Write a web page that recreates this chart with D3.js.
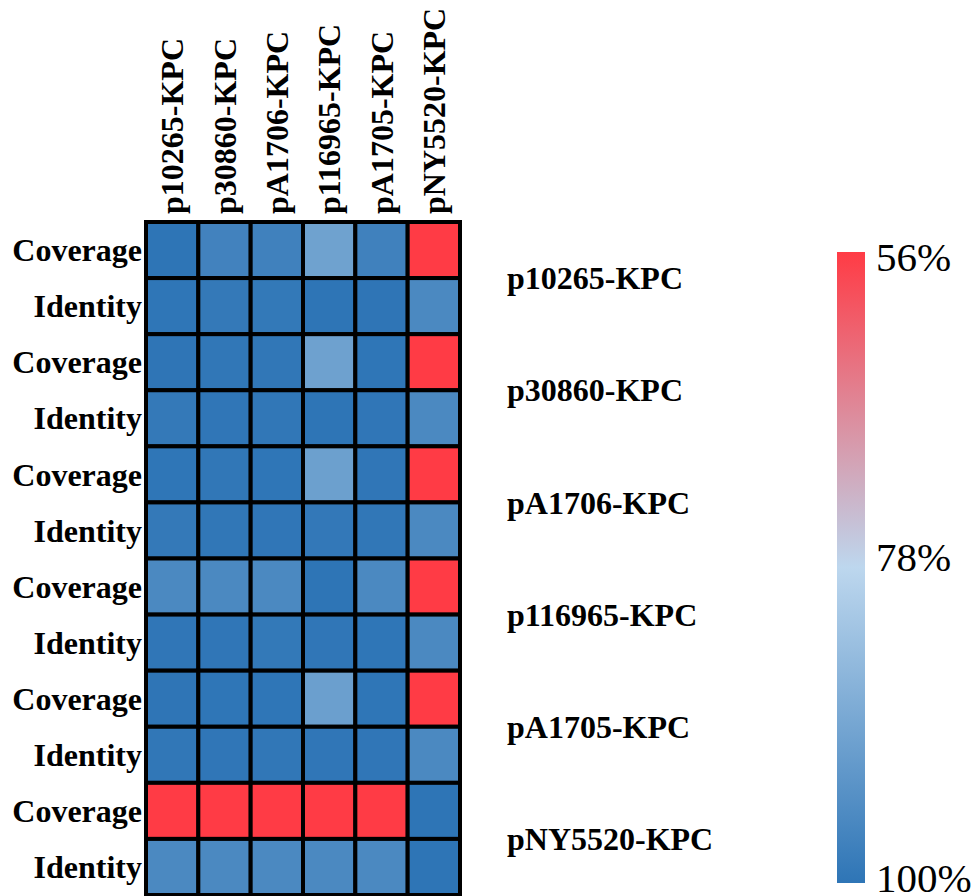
<!DOCTYPE html>
<html>
<head>
<meta charset="utf-8">
<script src="https://cdn.jsdelivr.net/npm/d3@7"></script>
<style>
  html, body { margin: 0; padding: 0; background: #fff; }
  svg text { font-family: "Liberation Serif", "Times New Roman", serif; fill: #000; }
</style>
</head>
<body>
<svg id="chart" width="977" height="896"></svg>
<script>
// plasmids compared (rows and columns share the same list)
const plasmids = ["p10265-KPC", "p30860-KPC", "pA1706-KPC", "p116965-KPC", "pA1705-KPC", "pNY5520-KPC"];
const metrics = ["Coverage", "Identity"];

// coverage[i][j]: % of row plasmid i covered by column plasmid j
const coverage = [
  [100, 97.0, 97.2, 90.0, 97.2, 52],
  [99.9, 99.6, 99.6, 90.2, 99.8, 52],
  [99.8, 99.6, 99.8, 90.4, 99.7, 52],
  [95.6, 95.5, 95.6, 100, 95.5, 52],
  [99.9, 99.8, 99.8, 90.6, 99.8, 52],
  [45, 45, 45, 45, 45, 100]
];

// identity[i][j]: % nucleotide identity
const identity = [
  [99.8, 99.1, 99.2, 100, 99.9, 95.5],
  [99.1, 99.7, 99.5, 100, 99.7, 95.5],
  [99.1, 99.6, 99.7, 99.3, 99.6, 95.5],
  [99.7, 99.7, 99.2, 99.7, 99.8, 95.5],
  [99.6, 99.7, 99.6, 99.7, 99.7, 95.6],
  [95.6, 95.6, 95.6, 95.6, 95.6, 100]
];

const legendTicks = [56, 78, 100];
const legendColors = ["#ff3b45", "#bdd7ee", "#2e75b6"];

const svg = d3.select("#chart");

// flatten rows: Coverage / Identity for each plasmid
const rows = [];
plasmids.forEach((p, i) => {
  rows.push({ plasmid: p, metric: metrics[0], values: coverage[i] });
  rows.push({ plasmid: p, metric: metrics[1], values: identity[i] });
});

const gridLeft = 146, gridRight = 460, gridTop = 222, gridBottom = 895;

const x = d3.scaleBand().domain(plasmids).range([gridLeft, gridRight]);
const y = d3.scaleBand().domain(d3.range(rows.length)).range([gridTop, gridBottom]);

const color = d3.scaleLinear()
    .domain(legendTicks)
    .range(legendColors)
    .clamp(true);

const cells = [];
rows.forEach((r, ri) => {
  r.values.forEach((v, ci) => cells.push({ row: ri, col: plasmids[ci], value: v }));
});

svg.append("g")
  .selectAll("rect")
  .data(cells)
  .join("rect")
    .attr("x", d => x(d.col))
    .attr("y", d => y(d.row))
    .attr("width", x.bandwidth())
    .attr("height", y.bandwidth())
    .attr("fill", d => color(d.value))
    .attr("stroke", "#000")
    .attr("stroke-width", 4);

// column labels (rotated)
svg.append("g")
  .selectAll("text")
  .data(plasmids)
  .join("text")
    .attr("transform", d => `translate(${x(d) + x.bandwidth() / 2},214) rotate(-90)`)
    .attr("dy", "0.35em")
    .attr("font-size", 32)
    .attr("font-weight", "bold")
    .text(d => d);

// row labels
svg.append("g")
  .selectAll("text")
  .data(rows)
  .join("text")
    .attr("x", 142)
    .attr("y", (d, i) => y(i) + y.bandwidth() / 2)
    .attr("dy", "0.35em")
    .attr("text-anchor", "end")
    .attr("font-size", 32)
    .attr("font-weight", "bold")
    .text(d => d.metric);

// plasmid group labels on the right
svg.append("g")
  .selectAll("text")
  .data(plasmids)
  .join("text")
    .attr("x", 507)
    .attr("y", (d, i) => y(i * 2) + y.bandwidth())
    .attr("dy", "0.35em")
    .attr("font-size", 32)
    .attr("font-weight", "bold")
    .text(d => d);

// colour legend
const legendY = d3.scaleLinear().domain([56, 100]).range([252, 883]);
const grad = svg.append("defs").append("linearGradient")
    .attr("id", "legend-grad")
    .attr("x1", 0).attr("x2", 0).attr("y1", 0).attr("y2", 1);
grad.selectAll("stop")
  .data(legendTicks)
  .join("stop")
    .attr("offset", d => (legendY(d) - 252) / (883 - 252))
    .attr("stop-color", d => color(d));

svg.append("rect")
    .attr("x", 837)
    .attr("y", legendY(56))
    .attr("width", 28)
    .attr("height", legendY(100) - legendY(56))
    .attr("fill", "url(#legend-grad)");

const labelDy = [19, 3, 9];
svg.append("g")
  .selectAll("text")
  .data(legendTicks)
  .join("text")
    .attr("x", 876)
    .attr("y", (d, i) => legendY(d) + labelDy[i])
    .attr("font-size", 41)
    .text(d => d + "%");
</script>
</body>
</html>
